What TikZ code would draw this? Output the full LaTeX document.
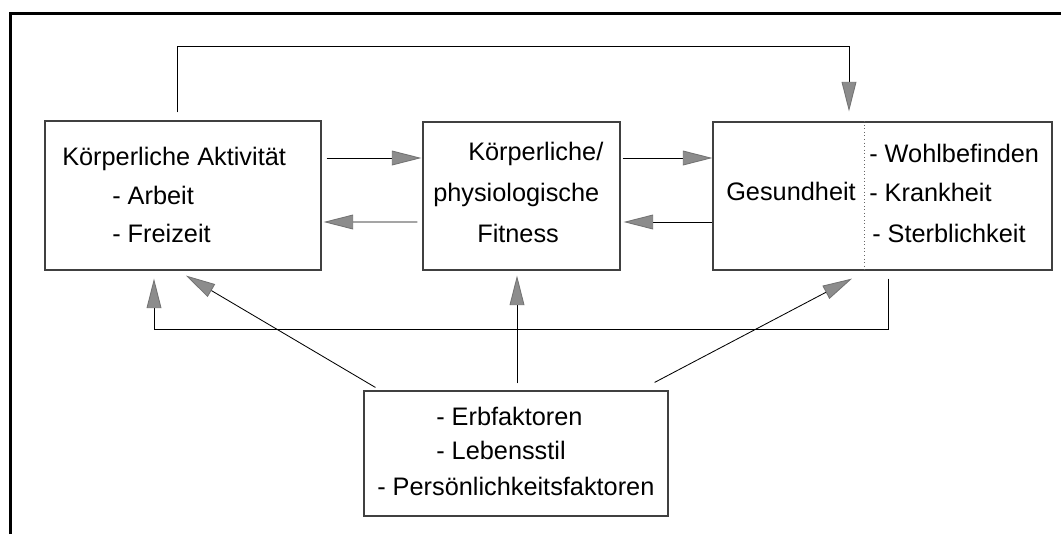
\documentclass[tikz,border=0pt]{standalone}
\usepackage{fontspec}
\setmainfont{Liberation Sans}
\usetikzlibrary{arrows.meta,calc}
\begin{document}
\begin{tikzpicture}[x=0.025cm,y=-0.025cm,
  box/.style={draw=black!75,line width=0.8pt,inner sep=0pt},
  txt/.style={anchor=base west,inner sep=0pt,font=\fontsize{18}{22}\selectfont},
  arr/.style={line width=0.6pt,-{Triangle[length=21pt,width=10.5pt,fill=black!45,color=black!55]}}]
\useasboundingbox (0,0) rectangle (1061,534);
\draw[line width=2pt] (10.5,534) -- (10.5,13.5) -- (1061,13.5);
\node[box,minimum width=6.9cm,minimum height=3.725cm] (akt) at (183,195.5) {};
\node[box,minimum width=4.925cm,minimum height=3.7cm] (fit) at (521.5,196) {};
\node[box,minimum width=8.475cm,minimum height=3.7cm] (ges) at (882.5,196) {};
\node[box,minimum width=7.6cm,minimum height=3.125cm] (fak) at (516,453.5) {};
\draw[black!60,line width=0.5pt,dotted] (ges.north -| 864,0) -- (ges.south -| 864,0);
\node[txt] (aktname) at (62,165) {Körperliche Aktivität};
\node[txt] (arbeit) at (112,204) {- Arbeit};
\node[txt] (freizeit) at (112,242) {- Freizeit};
\node[txt] (fitname) at (468,160) {Körperliche/};
\node[txt] (physio) at (433,201) {physiologische};
\node[txt] (fitness) at (477,242) {Fitness};
\node[txt] (gesname) at (726,200) {Gesundheit};
\node[txt] (wohl) at (869,162) {- Wohlbefinden};
\node[txt] (krank) at (869,201) {- Krankheit};
\node[txt] (sterb) at (872,242) {- Sterblichkeit};
\node[txt] (erb) at (436,425) {- Erbfaktoren};
\node[txt] (leben) at (436,459) {- Lebensstil};
\node[txt] (pers) at (377,495) {- Persönlichkeitsfaktoren};
\draw[arr] ($(akt.north)+(-6,-8)$) -- ++(0,-66) -| ($(ges.north)+(-33.5,-10)$);
\draw[arr] ($(akt.east)+(5,-37.5)$) -- ($(fit.west)+(-1,-38)$);
\draw[arr] ($(fit.west)+(-5,26)$) -- ($(akt.east)+(2,26.5)$);
\draw[arr] ($(fit.east)+(2,-38)$) -- ($(ges.west)+(0,-38)$);
\draw[arr] (ges.west |- 0,222) -- ($(fit.east)+(3,26)$);
\draw[arr] ($(ges.south)+(5.5,8)$) -- ++(0,51) -| ($(akt.south)+(-29,8)$);
\draw[arr] ($(fak.north west)+(12,-3)$) -- ($(akt.south)+(3,5)$);
\draw[arr] ($(fak.north)+(1,-7)$) -- ($(fit.south)+(-4.5,5)$);
\draw[arr] ($(fak.north east)+(-14,-8)$) -- ($(ges.south)+(-30.5,8)$);
\end{tikzpicture}
\end{document}
